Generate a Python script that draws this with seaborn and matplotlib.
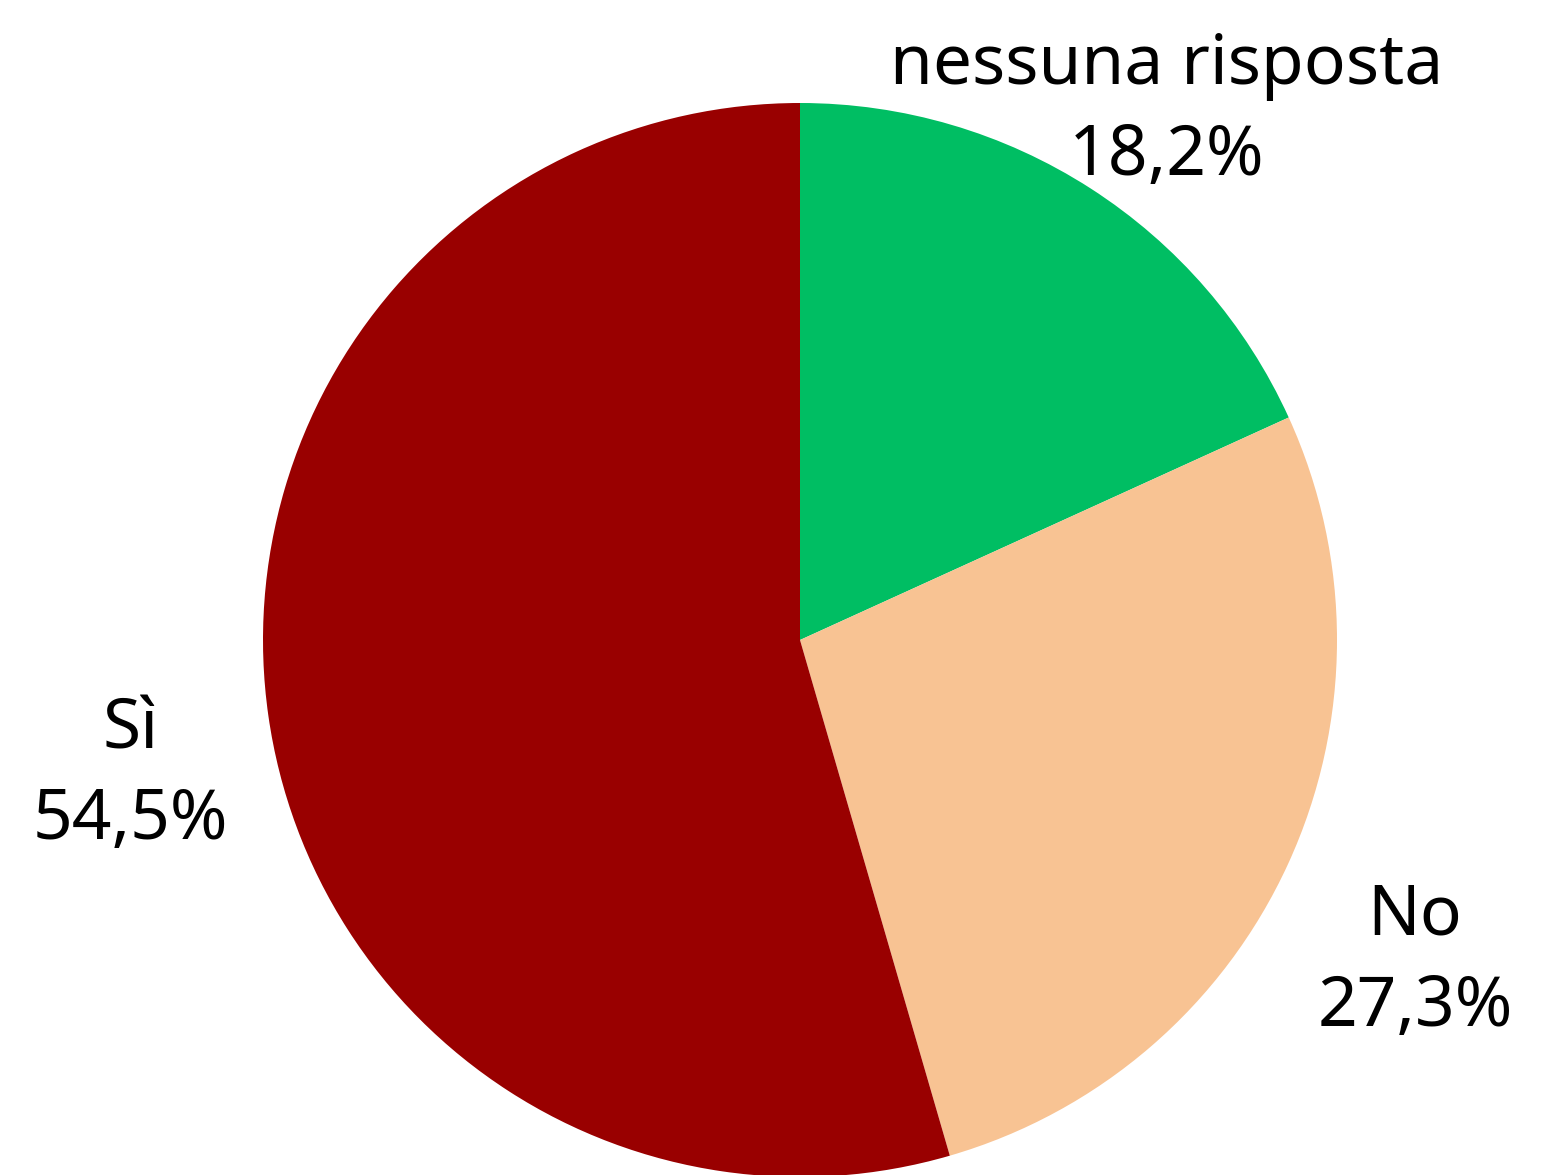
import matplotlib
matplotlib.use("Agg")
import matplotlib.pyplot as plt
import seaborn as sns

# ==================== Data ====================
categories = ["nessuna risposta", "No", "Sì"]
shares = [18.2, 27.3, 54.5]
slice_colors = ["#00BE63", "#F8C393", "#990000"]
# ==============================================

sns.set_theme(style="white")
plt.rcParams["font.family"] = ["Noto Sans", "DejaVu Sans"]

fig = plt.figure(figsize=(15.6, 11.75), dpi=100)
ax = fig.add_axes([0, 0, 1, 1])

labels = [f"{c}\n{str(v).replace('.', ',')}%" for c, v in zip(categories, shares)]
wedges, texts = ax.pie(
    shares, labels=labels, colors=slice_colors, startangle=90,
    counterclock=False, labeldistance=1.26,
    wedgeprops={"linewidth": 0},
    textprops={"fontsize": 50, "color": "black", "linespacing": 1.4},
)
for t in texts:
    t.set_horizontalalignment("center")
    x, y = t.get_position()
    t.set_position((x, y - 0.075))

# pie centre at (800, 640) px with radius ~537 px
ax.set_xlim(-800 / 537, 760 / 537)
ax.set_ylim(-(1175 - 640) / 537, 640 / 537)
ax.set_aspect("auto")
ax.axis("off")

fig.savefig("out.png", dpi=100, facecolor="white")
